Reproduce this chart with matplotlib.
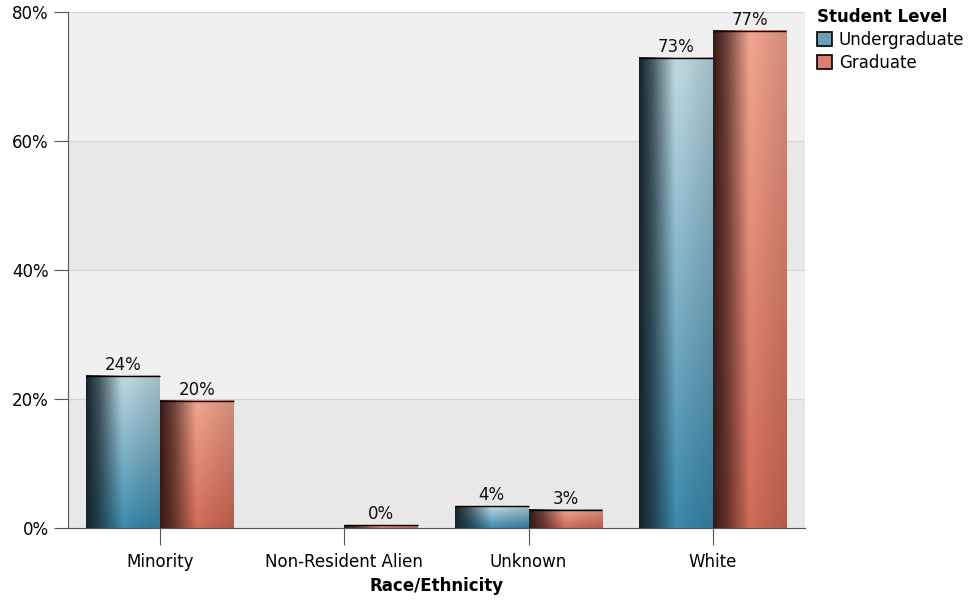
import numpy as np
import matplotlib
matplotlib.use("Agg")
import matplotlib.pyplot as plt
from matplotlib.patches import Patch
from matplotlib.ticker import FuncFormatter

categorias = ["Minority", "Non-Resident Alien", "Unknown", "White"]
pregrado = [23.6, None, 3.4, 72.9]
posgrado = [19.7, 0.4, 2.8, 77.1]
etiquetas_pre = ["24%", "", "4%", "73%"]
etiquetas_pos = ["20%", "0%", "3%", "77%"]
series = ["Undergraduate", "Graduate"]

# colores: arriba, abajo, borde oscuro izquierdo
col_pre = {"top": (0.74, 0.84, 0.87), "bot": (0.22, 0.52, 0.66), "dark": (0.08, 0.14, 0.17)}
col_pos = {"top": (0.93, 0.63, 0.55), "bot": (0.80, 0.40, 0.33), "dark": (0.22, 0.10, 0.09)}

plt.rcParams["font.family"] = ["DejaVu Sans"]


def textura(col, nx=60, ny=80):
    # gradiente horizontal (oscuro a la izquierda) combinado con vertical
    x = np.linspace(0, 1, nx)
    y = np.linspace(0, 1, ny)[:, None]
    top = np.array(col["top"])
    bot = np.array(col["bot"])
    dark = np.array(col["dark"])
    base = top * (1 - y[..., None]) + bot * y[..., None]
    # luz: 0 en el borde izquierdo, maximo cerca de 0.5
    luz = np.interp(x, [0, 0.18, 0.5, 0.78, 1.0], [0.0, 0.3, 1.05, 0.92, 0.85])
    luz = luz[None, :, None]
    brillo = np.clip(luz - 1, 0, None)
    img = dark * (1 - np.clip(luz, 0, 1)) + base * np.clip(luz, 0, 1)
    img = img + brillo * (1 - img)
    return np.clip(img, 0, 1)


fig = plt.figure(figsize=(9.72, 6.0), dpi=100)
ax = fig.add_axes([0.070, 0.12, 0.758, 0.86])

ax.set_xlim(-0.5, 3.5)
ax.set_ylim(0, 80)

# bandas de fondo
for i, y0 in enumerate(range(0, 80, 20)):
    ax.axhspan(y0, y0 + 20, color="#e8e8e8" if i % 2 == 0 else "#f0f0f0", zorder=0, lw=0)
for y0 in range(20, 81, 20):
    ax.axhline(y0, color="#d4d4d4", lw=0.8, zorder=0.5)

ancho = 0.4
tex_pre = textura(col_pre)
tex_pos = textura(col_pos)
for i in range(len(categorias)):
    for val, lab, tex, dx in [
        (pregrado[i], etiquetas_pre[i], tex_pre, -ancho / 2),
        (posgrado[i], etiquetas_pos[i], tex_pos, ancho / 2),
    ]:
        if val is None:
            continue
        x0 = i + dx - ancho / 2
        x1 = i + dx + ancho / 2
        ax.imshow(tex, extent=[x0, x1, 0, val], aspect="auto",
                  interpolation="bilinear", zorder=2)
        ax.plot([x0, x1], [val, val], color="black", lw=1.0, zorder=3,
                solid_capstyle="butt")
        ax.text(i + dx, val + 0.3, lab, ha="center", va="bottom",
                fontsize=12, color="#111111", zorder=4)

ax.set_xlim(-0.5, 3.5)
ax.set_ylim(0, 80)

ax.set_xticks(range(len(categorias)))
ax.set_xticklabels(categorias, fontsize=12)
ax.set_yticks(range(0, 81, 20))
ax.yaxis.set_major_formatter(FuncFormatter(lambda v, p: f"{v:.0f}%"))
ax.tick_params(axis="y", labelsize=12, length=10, color="#555555", pad=4)
ax.tick_params(axis="x", length=12, color="#555555", pad=6)
ax.set_xlabel("Race/Ethnicity", fontsize=12, fontweight="bold", labelpad=4)

for lado in ["top", "right"]:
    ax.spines[lado].set_visible(False)
ax.spines["left"].set_color("#555555")
ax.spines["bottom"].set_color("#555555")

handles = [
    Patch(facecolor="#6a9fb8", edgecolor="black", lw=1.2),
    Patch(facecolor="#d98070", edgecolor="black", lw=1.2),
]
leg = fig.legend(handles, series, loc="upper left", bbox_to_anchor=(0.839, 0.99),
                 frameon=False, fontsize=12, title="Student Level",
                 title_fontproperties={"weight": "bold", "size": 12},
                 handlelength=0.9, handleheight=0.9, handletextpad=0.4,
                 labelspacing=0.3, borderaxespad=0.0, borderpad=0.1)
leg._legend_box.align = "left"

fig.savefig("out.png", dpi=100)
